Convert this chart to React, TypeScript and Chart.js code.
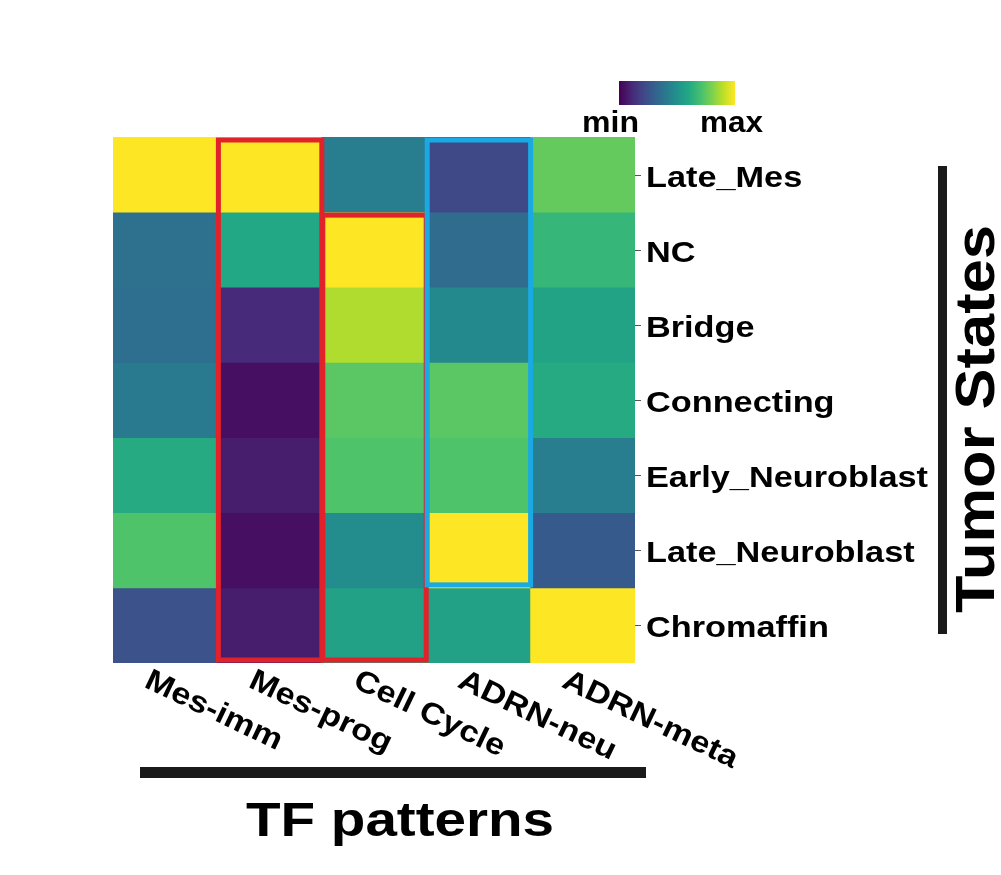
import { useEffect, useRef } from 'react';
import { Chart, registerables } from 'chart.js';

Chart.register(...registerables);

// ---------- data ----------
const columns = ['Mes-imm', 'Mes-prog', 'Cell Cycle', 'ADRN-neu', 'ADRN-meta'];
const rowNames = ['Late_Mes', 'NC', 'Bridge', 'Connecting', 'Early_Neuroblast', 'Late_Neuroblast', 'Chromaffin'];

// scaled activity (0 = min, 1 = max), one array per tumor state, ordered as columns
const lateMes = [1.0, 1.0, 0.42, 0.22, 0.76];
const nc = [0.37, 0.6, 1.0, 0.35, 0.66];
const bridge = [0.36, 0.12, 0.88, 0.47, 0.58];
const connecting = [0.41, 0.04, 0.74, 0.74, 0.61];
const earlyNeuroblast = [0.61, 0.08, 0.72, 0.72, 0.42];
const lateNeuroblast = [0.72, 0.04, 0.48, 1.0, 0.28];
const chromaffin = [0.25, 0.08, 0.57, 0.57, 1.0];
const rowValues = [lateMes, nc, bridge, connecting, earlyNeuroblast, lateNeuroblast, chromaffin];

// highlighted blocks: column index, first row, last row
const redBoxes = [
  { col: 1, fromRow: 0, toRow: 6 },
  { col: 2, fromRow: 1, toRow: 6 },
];
const blueBoxes = [{ col: 3, fromRow: 0, toRow: 5 }];

const colorbarLabels = ['min', 'max'];
const yTitle = 'Tumor States';
const xTitle = 'TF patterns';

// ---------- viridis colormap ----------
const VIRIDIS = [
  [68, 1, 84], [72, 36, 117], [65, 68, 135], [53, 95, 141], [42, 120, 142],
  [33, 145, 140], [34, 168, 132], [68, 191, 112], [122, 209, 81], [189, 223, 38], [253, 231, 37],
];
function viridis(t: number): string {
  const x = Math.max(0, Math.min(1, t)) * (VIRIDIS.length - 1);
  const i = Math.min(VIRIDIS.length - 2, Math.floor(x));
  const f = x - i;
  const a = VIRIDIS[i];
  const b = VIRIDIS[i + 1];
  const c = a.map((v, k) => Math.round(v + (b[k] - v) * f));
  return `rgb(${c[0]},${c[1]},${c[2]})`;
}

const FONT = 'Arial, "Liberation Sans", Helvetica, sans-serif';

function drawText(
  ctx: CanvasRenderingContext2D,
  text: string,
  x: number,
  y: number,
  size: number,
  opts: { sx?: number; width?: number; angle?: number; align?: CanvasTextAlign } = {}
) {
  ctx.save();
  ctx.font = `bold ${size}px ${FONT}`;
  let sx = opts.sx ?? 1;
  if (opts.width) sx = opts.width / ctx.measureText(text).width;
  ctx.translate(x, y);
  if (opts.angle) ctx.rotate(opts.angle);
  ctx.scale(sx, 1);
  ctx.textAlign = opts.align ?? 'left';
  ctx.textBaseline = 'alphabetic';
  ctx.fillStyle = '#000';
  ctx.fillText(text, 0, 0);
  ctx.restore();
}

const decorPlugin = {
  id: 'decor',
  afterDraw(chart: any) {
    const ctx: CanvasRenderingContext2D = chart.ctx;
    const xs = chart.scales.x;
    const ys = chart.scales.y;
    const area = chart.chartArea;
    const colW = (area.right - area.left) / columns.length;

    // common horizontal stretch for axis labels (the longest label spans ~282px)
    ctx.save();
    ctx.font = `bold 30px ${FONT}`;
    const labelSx = 282 / ctx.measureText('Early_Neuroblast').width;
    ctx.restore();

    // y ticks + labels on the right
    rowNames.forEach((name, r) => {
      const cy = ys.getPixelForValue(r + 0.5);
      ctx.save();
      ctx.strokeStyle = '#555';
      ctx.lineWidth = 1;
      ctx.beginPath();
      ctx.moveTo(area.right, Math.round(cy) + 0.5);
      ctx.lineTo(area.right + 6, Math.round(cy) + 0.5);
      ctx.stroke();
      ctx.restore();
      drawText(ctx, name, area.right + 11, cy + 12, 30, { sx: labelSx });
    });

    // x labels, rotated clockwise
    const ang = (25.5 * Math.PI) / 180;
    columns.forEach((name, c) => {
      const cx = xs.getPixelForValue(c);
      const px = cx - 13;
      const py = area.bottom + 4;
      const h = 21.5;
      drawText(ctx, name, px - h * Math.sin(ang), py + h * Math.cos(ang), 30, { sx: labelSx, angle: ang });
    });

    // highlight boxes
    const drawBox = (b: any, color: string) => {
      const x0 = xs.getPixelForValue(b.col) - colW / 2;
      const x1 = xs.getPixelForValue(b.col) + colW / 2;
      const y0 = ys.getPixelForValue(b.fromRow);
      const y1 = ys.getPixelForValue(b.toRow + 1);
      ctx.save();
      ctx.strokeStyle = color;
      ctx.lineWidth = 5;
      ctx.strokeRect(x0 + 1, y0 + 3, x1 - x0 - 1, y1 - y0 - 6);
      ctx.restore();
    };
    redBoxes.forEach((b) => drawBox(b, '#e2222a'));
    blueBoxes.forEach((b) => drawBox(b, '#1aa9e2'));

    // colorbar
    const cbX = 619, cbY = 81, cbW = 116, cbH = 24;
    const grad = ctx.createLinearGradient(cbX, 0, cbX + cbW, 0);
    VIRIDIS.forEach((_, i) => grad.addColorStop(i / (VIRIDIS.length - 1), viridis(i / (VIRIDIS.length - 1))));
    ctx.fillStyle = grad;
    ctx.fillRect(cbX, cbY, cbW, cbH);
    drawText(ctx, colorbarLabels[0], 582, 132, 29, { width: 57 });
    drawText(ctx, colorbarLabels[1], 700, 132, 29, { width: 63 });

    // right title with bar
    ctx.fillStyle = '#1a1a1a';
    ctx.fillRect(938, 166, 9, 468);
    drawText(ctx, yTitle, 994, 419, 56, { width: 388, angle: -Math.PI / 2, align: 'center' });

    // bottom title with bar
    ctx.fillStyle = '#1a1a1a';
    ctx.fillRect(140, 767, 506, 11);
    drawText(ctx, xTitle, 400, 836, 48, { width: 308, align: 'center' });
  },
};

export default function App() {
  const ref = useRef<HTMLCanvasElement>(null);
  useEffect(() => {
    if (!ref.current) return;
    const datasets = rowNames.map((name, r) => ({
      label: name,
      data: columns.map(() => [r, r + 1]),
      backgroundColor: rowValues[r].map(viridis),
      borderWidth: 0,
      grouped: false,
      categoryPercentage: 1,
      barPercentage: 1,
    }));
    const chart = new Chart(ref.current, {
      type: 'bar',
      data: { labels: columns, datasets: datasets as any },
      options: {
        responsive: false,
        animation: false,
        devicePixelRatio: 1,
        layout: { padding: { left: 113, top: 137, right: 366, bottom: 212 } },
        plugins: { legend: { display: false }, tooltip: { enabled: false } },
        scales: {
          x: { type: 'category', display: false, offset: true },
          y: { type: 'linear', display: false, min: 0, max: 7, reverse: true },
        },
      },
      plugins: [decorPlugin],
    });
    return () => chart.destroy();
  }, []);
  return (
    <div style={{ position: 'fixed', left: 0, top: 0, width: 1001, height: 875, background: '#fff' }}>
      <canvas ref={ref} width={1001} height={875} style={{ display: 'block' }} />
    </div>
  );
}
